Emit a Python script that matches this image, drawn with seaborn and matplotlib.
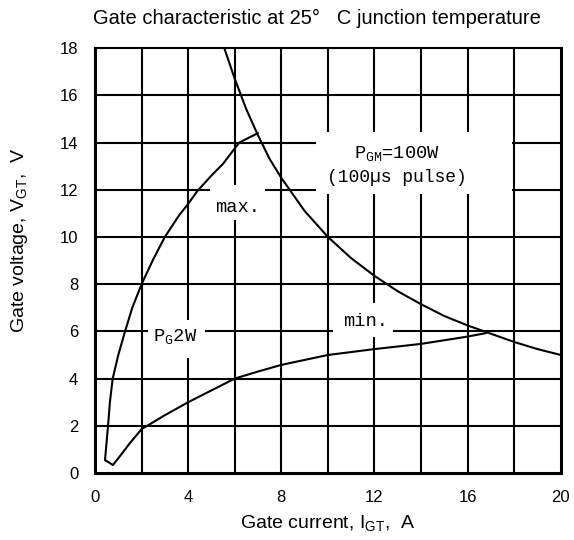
import matplotlib
matplotlib.use('Agg')
import matplotlib.pyplot as plt
from matplotlib.patches import Rectangle
import pandas as pd
import seaborn as sns

# curve readings (gate current A, gate voltage V)
max_i = [0.43, 0.47, 0.56, 0.64, 0.76, 1.0, 1.29, 1.6, 2.0, 2.5, 3.0, 3.6, 4.0, 4.4, 5.0, 5.5, 6.0, 6.2, 6.6, 7.0]
max_v = [0.55, 1.0, 2.0, 3.0, 4.0, 5.0, 6.0, 7.0, 8.0, 9.05, 10.0, 10.9, 11.4, 11.95, 12.6, 13.1, 13.75, 14.0, 14.2, 14.4]

min_i = [0.43, 0.77, 1.1, 1.5, 2.0, 3.0, 4.0, 5.0, 6.0, 7.0, 8.0, 10.0, 12.0, 14.0, 16.0, 16.8]
min_v = [0.55, 0.34, 0.75, 1.27, 1.86, 2.45, 3.0, 3.5, 4.0, 4.3, 4.58, 5.0, 5.25, 5.47, 5.78, 5.93]

pgm_i = [5.55, 6.0, 6.5, 7.0, 7.5, 8.0, 9.0, 10.0, 11.0, 12.0, 13.0, 14.0, 15.0, 16.0, 17.0, 18.0, 19.0, 20.0]
pgm_v = [18.0, 16.7, 15.4, 14.3, 13.3, 12.5, 11.1, 10.0, 9.1, 8.35, 7.7, 7.15, 6.65, 6.25, 5.9, 5.55, 5.25, 5.0]

x_ticks = [0, 4, 8, 12, 16, 20]
y_ticks = [0, 2, 4, 6, 8, 10, 12, 14, 16, 18]

sns.set_style('white')
plt.rcParams['font.family'] = ['Liberation Sans', 'DejaVu Sans']
plt.rcParams['mathtext.default'] = 'regular'
plt.rcParams['text.color'] = 'black'
plt.rcParams['axes.labelcolor'] = 'black'
plt.rcParams['xtick.color'] = 'black'
plt.rcParams['ytick.color'] = 'black'

fig = plt.figure(figsize=(5.74, 5.40), dpi=100)
ax = fig.add_axes([0.1655, 0.124, 0.8115, 0.787])

# grid
for gx in range(2, 20, 2):
    ax.axvline(gx, color='black', lw=1.5, zorder=1)
for gy in range(2, 18, 2):
    ax.axhline(gy, color='black', lw=1.5, zorder=1)

curves = [(max_i, max_v), (min_i, min_v), (pgm_i, pgm_v)]
for ci, cv in curves:
    df = pd.DataFrame({'I': ci, 'V': cv})
    sns.lineplot(data=df, x='I', y='V', sort=False, estimator=None,
                 color='black', lw=1.5, ax=ax, zorder=3)

# white label boxes that break the grid
for (x0, y0, w, h) in [(4.94, 10.7, 2.36, 1.5), (10.2, 5.76, 2.6, 1.44),
                       (2.27, 4.87, 2.45, 1.63), (9.5, 11.8, 8.4, 2.65)]:
    ax.add_patch(Rectangle((x0, y0), w, h, facecolor='white', edgecolor='none', zorder=2))

mono = ['Liberation Mono', 'DejaVu Sans Mono']
ax.text(6.1, 11.25, 'max.', family=mono, fontsize=13.5, ha='center', va='center', zorder=4)
ax.text(11.6, 6.4, 'min.', family=mono, fontsize=13.5, ha='center', va='center', zorder=4)
ax.text(3.43, 5.8, 'P$_{G}$2W', family=mono, fontsize=13.5, ha='center', va='center', zorder=4)
ax.text(12.96, 13.55, 'P$_{GM}$=100W', family=mono, fontsize=13.5,
        ha='center', va='center', zorder=4)
ax.text(12.96, 12.5, '(100\u00b5s pulse)', family=mono, fontsize=13,
        ha='center', va='center', zorder=4)

ax.set_xlim(0, 20)
ax.set_ylim(0, 18)
ax.set_xticks(x_ticks)
ax.set_yticks(y_ticks)
ax.tick_params(length=0, labelsize=12, pad=12)
for s in ax.spines.values():
    s.set_visible(True)
    s.set_color('black')
    s.set_linewidth(2.2)
ax.spines['top'].set_linewidth(1.5)

ax.set_xlabel('Gate current, I$_{GT}$,  A', fontsize=14, labelpad=6)
ax.set_ylabel('Gate voltage, V$_{GT}$,  V', fontsize=14)
ax.yaxis.set_label_coords(-0.14, 0.548)
fig.text(0.553, 0.965, 'Gate characteristic at 25\u00b0   C junction temperature',
         fontsize=14.5, ha='center', va='center')

fig.savefig('out.png', dpi=100)
